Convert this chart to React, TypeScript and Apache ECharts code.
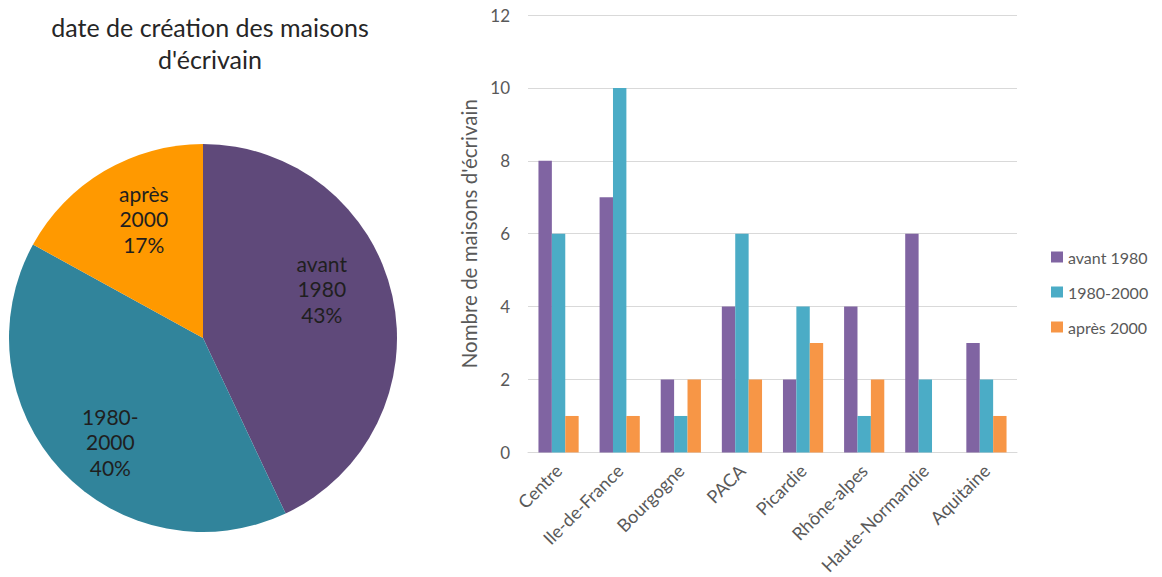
import React, { useEffect, useRef } from "react";
import * as echarts from "echarts";

const pieTitle = "date de création des maisons\nd'écrivain";
const pieNames = ["avant\n1980", "1980-\n2000", "après\n2000"];
const pieValues = [43, 40, 17];
const pieColors = ["#5F497A", "#31849B", "#FF9900"];

const regions = ["Centre", "Ile-de-France", "Bourgogne", "PACA", "Picardie", "Rhône-alpes", "Haute-Normandie", "Aquitaine"];
const seriesNames = ["avant 1980", "1980-2000", "après 2000"];
const avant1980 = [8, 7, 2, 4, 2, 4, 6, 3];
const s1980_2000 = [6, 10, 1, 6, 4, 1, 2, 2];
const apres2000 = [1, 1, 2, 2, 3, 2, 0, 1];
const barColors = ["#8064A2", "#4BACC6", "#F79646"];
const yAxisName = "Nombre de maisons d'écrivain";

const FONT = "Lato";

export default function App() {
  const ref = useRef<HTMLDivElement>(null);
  useEffect(() => {
    if (!ref.current) return;
    const chart = echarts.init(ref.current, null, { renderer: "svg" });
    const barData = [avant1980, s1980_2000, apres2000];
    const labelOffsets = [[-12, -20], [5, 12], [9, -4]];
    chart.setOption({
      animation: false,
      textStyle: { fontFamily: FONT },
      title: {
        text: pieTitle,
        left: 205,
        top: 6,
        textAlign: "center",
        textStyle: { fontFamily: FONT, fontSize: 25, fontWeight: "normal", color: "#262626", lineHeight: 32 },
      },
      legend: {
        orient: "vertical",
        left: 1051,
        top: 249,
        padding: 0,
        itemWidth: 12,
        itemHeight: 11,
        itemGap: 19,
        icon: "rect",
        data: seriesNames,
        textStyle: { fontFamily: FONT, fontSize: 16, color: "#595959", lineHeight: 16 },
      },
      grid: { left: 528, top: 15, width: 489, height: 439, containLabel: false },
      xAxis: {
        type: "category",
        data: regions,
        axisLine: { lineStyle: { color: "#D9D9D9" } },
        axisTick: { show: false },
        axisLabel: { rotate: 45, interval: 0, margin: 15, fontFamily: FONT, fontSize: 18, color: "#595959" },
      },
      yAxis: {
        type: "value",
        min: 0,
        max: 12,
        interval: 2,
        name: yAxisName,
        nameLocation: "middle",
        nameGap: 49,
        nameTextStyle: { fontFamily: FONT, fontSize: 20.5, color: "#595959" },
        axisLine: { show: false },
        axisTick: { show: false },
        splitLine: { lineStyle: { color: "#D9D9D9" } },
        axisLabel: { margin: 18, fontFamily: FONT, fontSize: 17, color: "#595959" },
      },
      series: [
        {
          type: "pie",
          center: [203, 338],
          radius: 194,
          startAngle: 90,
          silent: true,
          label: { show: false },
          labelLine: { show: false },
          data: pieNames.map((n, i) => ({ name: n, value: pieValues[i], itemStyle: { color: pieColors[i] } })),
        },
        {
          type: "pie",
          center: [203, 338],
          radius: [68, 194],
          startAngle: 90,
          silent: true,
          itemStyle: { color: "rgba(0,0,0,0)" },
          labelLine: { show: false },
          data: pieNames.map((n, i) => ({
            name: n,
            value: pieValues[i],
            label: { offset: labelOffsets[i] },
          })),
          label: {
            show: true,
            position: "inside",
            formatter: (p: any) => `${p.name}\n${p.percent.toFixed(0)}%`,
            fontFamily: FONT,
            fontSize: 21,
            lineHeight: 25.5,
            color: "#1F1F1F",
            align: "center",
          },
        },
        ...seriesNames.map((name, i) => ({
          type: "bar",
          name,
          data: barData[i],
          barWidth: 13.4,
          barGap: "0%",
          itemStyle: { color: barColors[i] },
        })),
      ],
    });
    return () => chart.dispose();
  }, []);
  return (
    <div
      ref={ref}
      style={{ position: "absolute", left: 0, top: 0, width: 1162, height: 577, overflow: "hidden" }}
    />
  );
}
